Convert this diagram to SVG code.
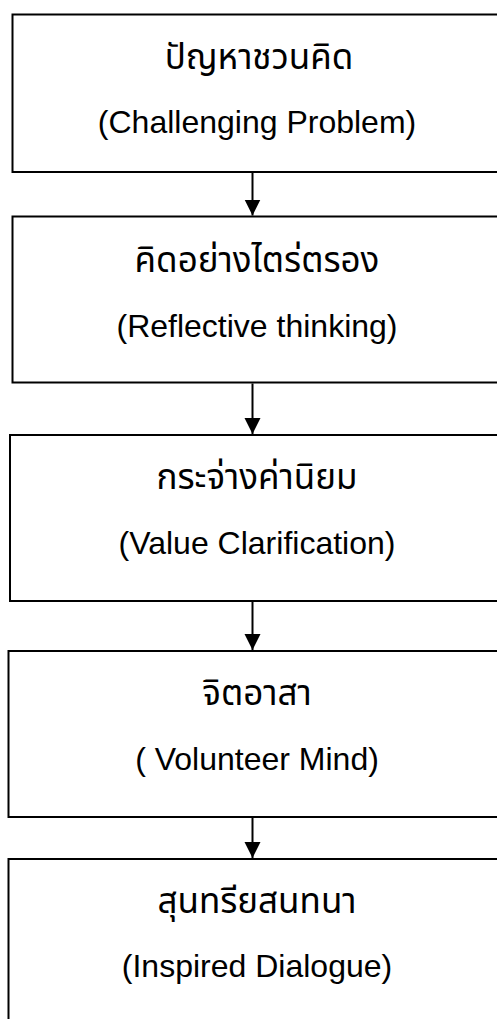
<svg xmlns="http://www.w3.org/2000/svg" width="497" height="1019" viewBox="0 0 497 1019">
<style>
.box{fill:#fff;stroke:#000;stroke-width:2}
.th{font-family:"Noto Sans Thai","Noto Sans Thai UI","Loma","Garuda","Norasi","Noto Sans","DejaVu Sans",sans-serif;font-size:35px;fill:#000;text-anchor:middle}
.en{font-family:"Liberation Sans",Arial,sans-serif;font-size:32px;fill:#000;text-anchor:middle}
.conn{stroke:#000;stroke-width:2;fill:none}
</style>
<defs>
<marker id="arr" markerUnits="userSpaceOnUse" markerWidth="16" markerHeight="17" refX="16" refY="8" orient="auto">
<path d="M0,0 L16,8 L0,16 Z" fill="#000"/>
</marker>
</defs>
<rect width="497" height="1019" fill="#fff"/>
<g id="n1">
<rect class="box" x="12.5" y="14.5" width="500" height="157.5"/>
<text class="th" x="259" y="69">ปัญหาชวนคิด</text>
<text class="en" x="257" y="133">(Challenging Problem)</text>
</g>
<g id="n2">
<rect class="box" x="12.5" y="216.5" width="500" height="166"/>
<text class="th" x="257" y="271.5">คิดอย่างไตร่ตรอง</text>
<text class="en" x="257" y="336.5">(Reflective thinking)</text>
</g>
<g id="n3">
<rect class="box" x="10" y="435" width="500" height="166"/>
<text class="th" x="257" y="488.5">กระจ่างค่านิยม</text>
<text class="en" x="257" y="554">(Value Clarification)</text>
</g>
<g id="n4">
<rect class="box" x="8.5" y="651" width="500" height="166"/>
<text class="th" x="257" y="705">จิตอาสา</text>
<text class="en" x="257" y="770">( Volunteer Mind)</text>
</g>
<g id="n5">
<rect class="box" x="8.5" y="859" width="500" height="200"/>
<text class="th" x="257" y="913">สุนทรียสนทนา</text>
<text class="en" x="257" y="977">(Inspired Dialogue)</text>
</g>
<g id="connectors">
<line class="conn" x1="252.5" y1="173" x2="252.5" y2="215.5" marker-end="url(#arr)"/>
<line class="conn" x1="252.5" y1="383.5" x2="252.5" y2="434" marker-end="url(#arr)"/>
<line class="conn" x1="252.5" y1="602" x2="252.5" y2="650" marker-end="url(#arr)"/>
<line class="conn" x1="252.5" y1="818" x2="252.5" y2="858" marker-end="url(#arr)"/>
</g>
</svg>
